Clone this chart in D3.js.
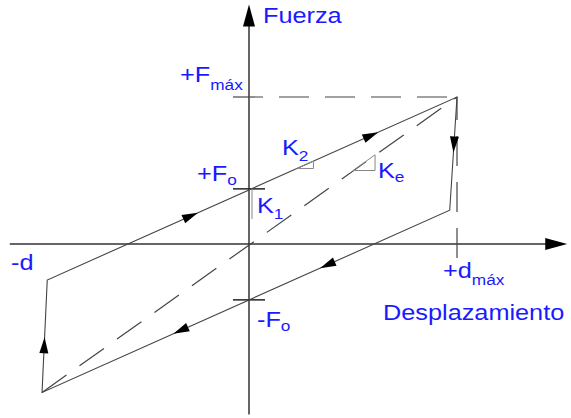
<!DOCTYPE html>
<html>
<head>
<meta charset="utf-8">
<script src="https://cdn.jsdelivr.net/npm/d3@7"></script>
<style>
  body { margin: 0; background: #fff; }
  svg { display: block; }
  text { font-family: "Liberation Sans", Arial, sans-serif; fill: #1a1aff; }
</style>
</head>
<body>
<div id="ciclo"></div>
<script>
// vertices del ciclo histeretico (desplazamiento, fuerza), normalizados a dmax / Fmax
const vertexDisp  = [1.0, 0.965, -0.995, -0.97];
const vertexForce = [1.0, 0.23, -1.01, -0.245];
// recta elastica Ke
const elasticDisp  = [-0.995, 1.0];
const elasticForce = [-1.01, 1.0];
// fuerzas marcadas en el eje
const tickForces = [0.375, -0.38];
const fMax = 1.0, dMax = 1.0;
// flechas en cada tramo (fraccion del tramo)
const branchArrows = [[0.42], [0.30, 0.66], [0.42], [0.35, 0.79]];
// textos
const axisLabels = ['Fuerza', 'Desplazamiento'];
const pointLabels = [['+F', 'máx'], ['+F', 'o'], ['-F', 'o'], ['+d', 'máx'], ['-d', '']];
const stiffLabels = [['K', '1'], ['K', '2'], ['K', 'e']];

zxt();
function zxt() {
  const width = 571, height = 418;
  let svg = d3.select('#ciclo').append('svg')
    .attr('width', width).attr('height', height);

  const x = d3.scaleLinear().domain([-1, 1]).range([41, 457]);
  const y = d3.scaleLinear().domain([-1, 1]).range([391, 97]);

  // ejes
  const ax = svg.append('g').attr('stroke', '#333').attr('stroke-width', 1.5);
  ax.append('line').attr('x1', x(-1.15)).attr('x2', x(1.45)).attr('y1', y(0)).attr('y2', y(0));
  ax.append('line').attr('x1', x(0)).attr('x2', x(0)).attr('y1', y(1.55)).attr('y2', y(-1.16));
  // puntas de los ejes
  const xTip = x(1.53), yTip = y(1.63);
  svg.append('path')
    .attr('d', `M${xTip},${y(0)} L${xTip - 22},${y(0) - 6} L${xTip - 22},${y(0) + 6} Z`)
    .attr('fill', '#000');
  svg.append('path')
    .attr('d', `M${x(0)},${yTip} L${x(0) - 6},${yTip + 22} L${x(0) + 6},${yTip + 22} Z`)
    .attr('fill', '#000');

  // lineas de trazos (Fmax, dmax, recta elastica)
  const dash = svg.append('g').attr('stroke', '#444').attr('stroke-width', 1.2)
    .attr('fill', 'none').attr('stroke-dasharray', '30,16');
  dash.append('line').attr('x1', x(0) - 16).attr('y1', y(fMax)).attr('x2', x(dMax)).attr('y2', y(fMax));
  dash.append('line').attr('x1', x(dMax)).attr('y1', y(0) + 14).attr('x2', x(dMax)).attr('y2', y(fMax));
  dash.append('line')
    .attr('x1', x(elasticDisp[0])).attr('y1', y(elasticForce[0]))
    .attr('x2', x(elasticDisp[1])).attr('y2', y(elasticForce[1]));

  // marcas en los ejes
  svg.selectAll('.tick').data(tickForces).enter().append('line')
    .attr('class', 'tick')
    .attr('x1', x(0) - 16).attr('x2', x(0) + 16)
    .attr('y1', d => y(d)).attr('y2', d => y(d))
    .attr('stroke', '#222').attr('stroke-width', 1.5);

  // ciclo
  const pts = vertexDisp.map((d, i) => [x(d), y(vertexForce[i])]);
  svg.append('path')
    .attr('d', d3.line()(pts) + 'Z')
    .attr('fill', 'none').attr('stroke', '#444').attr('stroke-width', 1.1);

  // flechas
  pts.forEach((p, i) => {
    const q = pts[(i + 1) % pts.length];
    const ang = Math.atan2(q[1] - p[1], q[0] - p[0]) * 180 / Math.PI;
    branchArrows[i].forEach(t => {
      const cx = p[0] + (q[0] - p[0]) * t, cy = p[1] + (q[1] - p[1]) * t;
      svg.append('path')
        .attr('d', 'M8,0 L-8,-4.5 L-8,4.5 Z')
        .attr('fill', '#000')
        .attr('transform', `translate(${cx},${cy}) rotate(${ang})`);
    });
  });

  // triangulos de rigidez
  const tri = svg.append('g').attr('fill', 'none').attr('stroke', '#888').attr('stroke-width', 1);
  tri.append('line').attr('x1', x(0) + 3).attr('x2', x(0) + 3).attr('y1', y(tickForces[0])).attr('y2', y(tickForces[0]) + 30);
  const slopeUp = (vertexForce[0] - vertexForce[3]) / (vertexDisp[0] - vertexDisp[3]);
  const slopeE = (elasticForce[1] - elasticForce[0]) / (elasticDisp[1] - elasticDisp[0]);
  function triangle(d0, d1, f0, m) {
    tri.append('path').attr('d', d3.line()([
      [x(d0), y(f0)], [x(d1), y(f0)], [x(d1), y(f0 + m * (d1 - d0))]
    ]) + 'Z');
  }
  const fUp = d => vertexForce[3] + slopeUp * (d - vertexDisp[3]);
  triangle(0.23, 0.31, fUp(0.23), slopeUp);
  triangle(0.5, 0.606, 0.5, slopeE);

  // textos
  function label(parts, px, py, sub) {
    const g = svg.append('g').attr('transform', `translate(${px},${py}) scale(1.15,1)`);
    const t = g.append('text').attr('font-size', 22);
    t.append('tspan').text(parts[0]);
    if (parts[1]) t.append('tspan').attr('font-size', 15).attr('dy', sub).text(parts[1]);
  }
  label([axisLabels[0]], 263, 23, 0);
  label([axisLabels[1]], 383, 320, 0);
  label(pointLabels[0], 180, 82, 8);
  label(pointLabels[1], 197, 181, 4);
  label(pointLabels[2], 257, 327, 4);
  label(pointLabels[3], 443, 278, 7);
  label(pointLabels[4], 11, 270, 0);
  label(stiffLabels[0], 257, 213, 6);
  label(stiffLabels[1], 282, 155, 6);
  label(stiffLabels[2], 378, 178, 4);
}
</script>
</body>
</html>
